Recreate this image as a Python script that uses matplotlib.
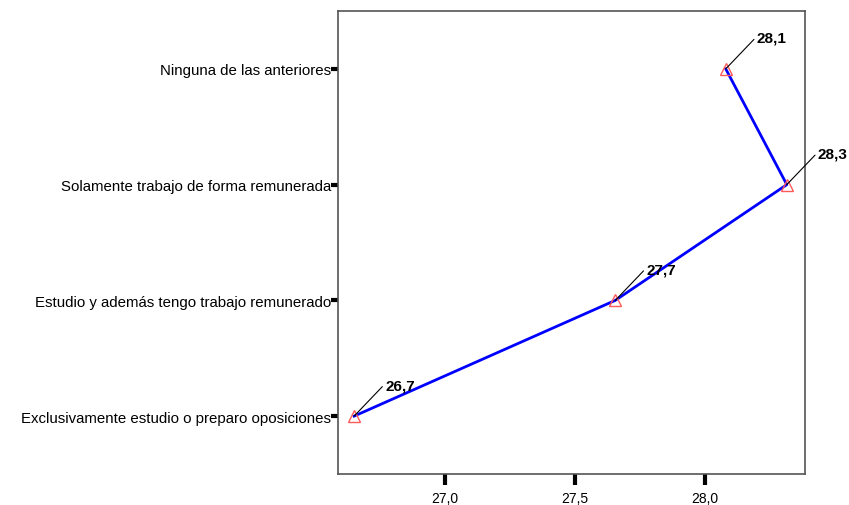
import numpy as np
import matplotlib
matplotlib.use("Agg")
import matplotlib.pyplot as plt

plt.rcParams['font.family'] = ['Liberation Sans', 'DejaVu Sans']

categorias = ["Exclusivamente estudio o preparo oposiciones",
              "Estudio y además tengo trabajo remunerado",
              "Solamente trabajo de forma remunerada",
              "Ninguna de las anteriores"]
medias = [26.65, 27.655, 28.315, 28.08]
etiquetas = ["26,7", "27,7", "28,3", "28,1"]
xticks = [27.0, 27.5, 28.0]
xtick_labels = ["27,0", "27,5", "28,0"]

fig = plt.figure(figsize=(8.49, 5.06), dpi=100)
ax = fig.add_axes([338/849, 1 - 475/506, (805 - 338)/849, (475 - 12)/506])

y = np.arange(len(categorias))
ax.plot(medias, y, color='#0000ff', lw=2.0, zorder=2)
ax.plot(medias, y, linestyle='none', marker='^', markersize=8,
        markerfacecolor='none', markeredgecolor='#ff5a5a', markeredgewidth=1.0, zorder=3)

# etiquetas con linea guia hacia arriba a la derecha
for xv, yv, lab in zip(medias, y, etiquetas):
    ax.annotate(lab, xy=(xv, yv), xytext=(31, 31), textcoords='offset pixels',
                ha='left', va='center', fontsize=11, fontweight='bold',
                arrowprops=dict(arrowstyle='-', color='black', lw=0.8,
                                shrinkA=0, shrinkB=0, relpos=(0, 0.6)))

ax.set_xlim(26.588, 28.385)
ax.set_ylim(-0.5, 3.5)
ax.set_yticks(y)
ax.set_yticklabels(categorias, fontsize=10.8)
ax.set_xticks(xticks)
ax.set_xticklabels(xtick_labels, fontsize=10)

ax.tick_params(axis='y', length=5, width=3, pad=0, color='black')
ax.tick_params(axis='x', length=8, width=3, pad=4, color='black')
for s in ax.spines.values():
    s.set_color('#555555')
    s.set_linewidth(1.2)

fig.savefig("out.png", dpi=100)
